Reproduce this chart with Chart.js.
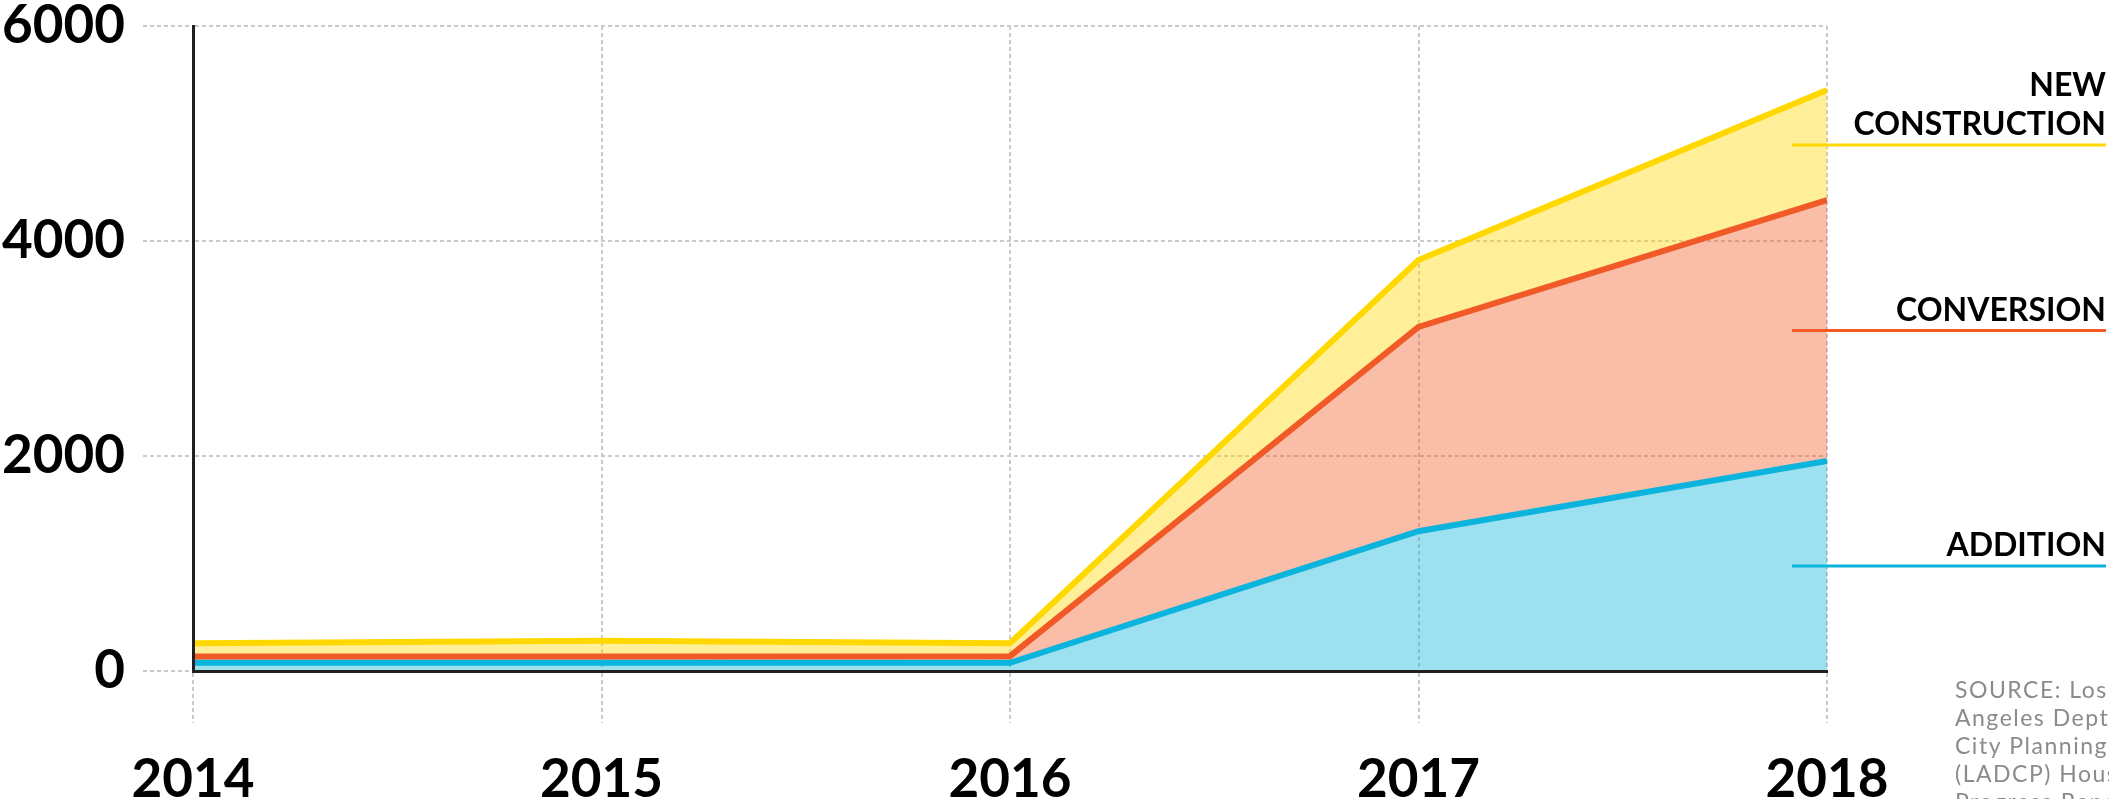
<!DOCTYPE html>
<html>
<head>
<meta charset="utf-8">
<script src="https://cdn.jsdelivr.net/npm/chart.js@4.4.0/dist/chart.umd.min.js"></script>
<style>
  html, body { margin: 0; padding: 0; background: #fff; overflow: hidden; }
  #wrap { position: relative; width: 2109px; height: 799px; }
</style>
</head>
<body>
<div id="wrap"><canvas id="unitsChart"></canvas></div>
<script>
// Units permitted per year, by type
const years = ['2014', '2015', '2016', '2017', '2018'];
const additionUnits = [76, 76, 76, 1300, 1953];
const conversionUnits = [59, 59, 62, 1900, 2428];
const newConstructionUnits = [123, 146, 121, 623, 1024];
const yTicks = [0, 2000, 4000, 6000];
const sourceLines = ['SOURCE: Los', 'Angeles Dept. of', 'City Planning', '(LADCP) Housing', 'Progress Report'];

const BLUE = '#0bb4dc';
const ORANGE = '#f15a26';
const YELLOW = '#ffd800';
const FONT = 'Lato, "Open Sans", sans-serif';

function fade(hex, a) {
    const n = parseInt(hex.slice(1), 16);
    return `rgba(${n >> 16}, ${(n >> 8) & 255}, ${n & 255}, ${a})`;
}

// Labels at the right edge, each one sitting on a rule at the middle of its band
const sideLabels = {
    id: 'sideLabels',
    afterDraw(chart) {
        const { ctx, chartArea, scales: { y } } = chart;
        const last = years.length - 1;
        const a = additionUnits[last];
        const c = a + conversionUnits[last];
        const n = c + newConstructionUnits[last];
        const bands = [
            { mid: a / 2, color: BLUE, text: ['ADDITION'] },
            { mid: (a + c) / 2, color: ORANGE, text: ['CONVERSION'] },
            { mid: (c + n) / 2, color: YELLOW, text: ['NEW', 'CONSTRUCTION'] }
        ];
        const x0 = chartArea.right - 35;
        const x1 = chart.width - 3;

        ctx.save();
        ctx.font = `bold 32px ${FONT}`;
        ctx.fillStyle = '#000';
        ctx.textAlign = 'right';
        ctx.textBaseline = 'alphabetic';
        bands.forEach(b => {
            const ly = y.getPixelForValue(b.mid);
            ctx.strokeStyle = b.color;
            ctx.lineWidth = 3;
            ctx.beginPath();
            ctx.moveTo(x0, ly);
            ctx.lineTo(x1, ly);
            ctx.stroke();
            const lines = b.text.slice().reverse();
            lines.forEach((t, i) => {
                ctx.fillText(t, x1, ly - 10 - i * 39);
            });
        });

        // source note, runs off the right edge like the original
        ctx.font = `23px ${FONT}`;
        ctx.fillStyle = '#898b8e';
        ctx.textAlign = 'left';
        if ('letterSpacing' in ctx) ctx.letterSpacing = '1.5px';
        sourceLines.forEach((t, i) => {
            ctx.fillText(t, 1955, 698 + i * 28);
        });
        ctx.restore();
    }
};

const gridColor = '#cacaca';
const dash = [4, 3];

new Chart(document.getElementById('unitsChart'), {
    type: 'line',
    data: {
        labels: years,
        datasets: [
            {
                label: 'Addition',
                data: additionUnits,
                borderColor: BLUE,
                backgroundColor: fade(BLUE, 0.4),
                fill: 'origin'
            },
            {
                label: 'Conversion',
                data: conversionUnits,
                borderColor: ORANGE,
                backgroundColor: fade(ORANGE, 0.4),
                fill: '-1'
            },
            {
                label: 'New Construction',
                data: newConstructionUnits,
                borderColor: YELLOW,
                backgroundColor: fade(YELLOW, 0.4),
                fill: '-1'
            }
        ]
    },
    options: {
        responsive: true,
        maintainAspectRatio: false,
        animation: false,
        layout: { padding: { top: 26, right: 282, left: 0, bottom: 0 } },
        elements: {
            line: { borderWidth: 6, tension: 0, borderJoinStyle: 'miter' },
            point: { radius: 0, hoverRadius: 0 }
        },
        datasets: { line: { clip: 0 } },
        plugins: {
            legend: { display: false },
            tooltip: { enabled: false }
        },
        scales: {
            x: {
                offset: false,
                afterFit: s => { s.height = 128; },
                grid: {
                    color: gridColor,
                    lineWidth: 2,
                    tickLength: 52,
                    tickColor: gridColor,
                    tickBorderDash: dash
                },
                border: { display: true, color: '#231f20', width: 3, dash: dash, z: 1 },
                ticks: {
                    color: '#000',
                    font: { family: FONT, weight: 'bold', size: 53 },
                    padding: 25,
                    maxRotation: 0,
                    autoSkip: false
                }
            },
            y: {
                stacked: true,
                min: 0,
                max: 6000,
                afterBuildTicks: s => { s.ticks = yTicks.map(v => ({ value: v })); },
                afterFit: s => { s.width = 193; },
                grid: {
                    color: gridColor,
                    lineWidth: 2,
                    tickLength: 50,
                    tickColor: gridColor,
                    tickBorderDash: dash
                },
                border: { display: true, color: '#231f20', width: 3, dash: dash, z: 1 },
                ticks: {
                    color: '#000',
                    font: { family: FONT, weight: 'bold', size: 53, lineHeight: 0.2 },
                    padding: 18,
                    callback: v => String(v)
                }
            }
        }
    },
    plugins: [sideLabels]
});
</script>
</body>
</html>
